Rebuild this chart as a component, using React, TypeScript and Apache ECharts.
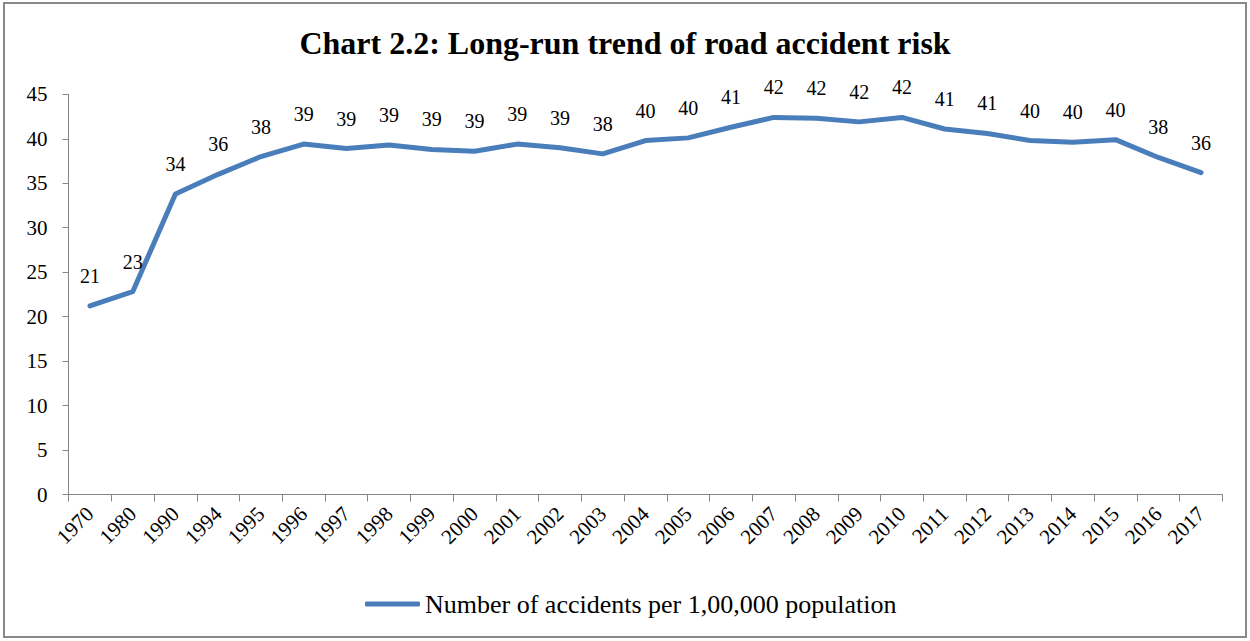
import React, { useEffect, useRef } from "react";
import * as echarts from "echarts";

const years = ["1970","1980","1990","1994","1995","1996","1997","1998","1999","2000","2001","2002","2003","2004","2005","2006","2007","2008","2009","2010","2011","2012","2013","2014","2015","2016","2017"];
const accidents = [21.2,22.8,33.8,36.0,38.0,39.4,38.9,39.3,38.8,38.6,39.4,39.0,38.3,39.8,40.1,41.3,42.4,42.3,41.9,42.4,41.1,40.6,39.8,39.6,39.9,37.9,36.2];
const yTicks = { min: 0, max: 45, interval: 5 };
const seriesName = "Number of accidents per 1,00,000 population";
const titleText = "Chart 2.2: Long-run trend of road accident risk";

const FONT = "'Liberation Serif', 'Times New Roman', serif";
const BLUE = "#4A7EBB";

export default function App() {
  const ref = useRef<HTMLDivElement>(null);
  useEffect(() => {
    const chart = echarts.init(ref.current!, null, { renderer: "svg" });
    chart.setOption({
      animation: false,
      backgroundColor: "#ffffff",
      title: {
        text: titleText,
        left: "center",
        top: 22,
        padding: [5, 5, 5, 15],
        textStyle: { fontFamily: FONT, fontWeight: "bold", fontSize: 32, color: "#000" },
      },
      grid: { left: 68.6, right: 27.6, top: 94.3, bottom: 146.5, containLabel: false },
      legend: {
        data: [seriesName],
        left: 360,
        top: 586,
        icon: "roundRect",
        itemWidth: 55,
        itemHeight: 5,
        itemStyle: { color: BLUE },
        textStyle: { fontFamily: FONT, fontSize: 26, color: "#000" },
      },
      xAxis: {
        type: "category",
        data: years,
        boundaryGap: true,
        axisLine: { lineStyle: { color: "#868686", width: 1 } },
        axisTick: { show: true, length: 7, lineStyle: { color: "#868686" } },
        axisLabel: { interval: 0, rotate: 45, margin: 16, fontFamily: FONT, fontSize: 21, color: "#000" },
        splitLine: { show: false },
      },
      yAxis: {
        type: "value",
        min: yTicks.min,
        max: yTicks.max,
        interval: yTicks.interval,
        axisLine: { show: true, lineStyle: { color: "#868686", width: 1 } },
        axisTick: { show: true, length: 6, lineStyle: { color: "#868686" } },
        axisLabel: { margin: 21, fontFamily: FONT, fontSize: 21, color: "#000" },
        splitLine: { show: false },
      },
      series: [
        {
          name: seriesName,
          type: "line",
          data: accidents,
          symbol: "circle",
          symbolSize: 0,
          showSymbol: true,
          lineStyle: { color: BLUE, width: 5, cap: "round", join: "round" },
          itemStyle: { color: BLUE },
          label: {
            show: true,
            position: "top",
            distance: 20,
            fontFamily: FONT,
            fontSize: 20,
            color: "#000",
            formatter: (p: any) => String(Math.round(p.value)),
          },
        },
      ],
      graphic: [
        {
          type: "rect",
          shape: { x: 4, y: 3, width: 1242, height: 634 },
          style: { fill: "none", stroke: "#888888", lineWidth: 2 },
          silent: true,
        },
      ],
    });
    return () => chart.dispose();
  }, []);
  return <div ref={ref} style={{ position: "absolute", left: 0, top: 0, width: 1250, height: 641 }} />;
}
